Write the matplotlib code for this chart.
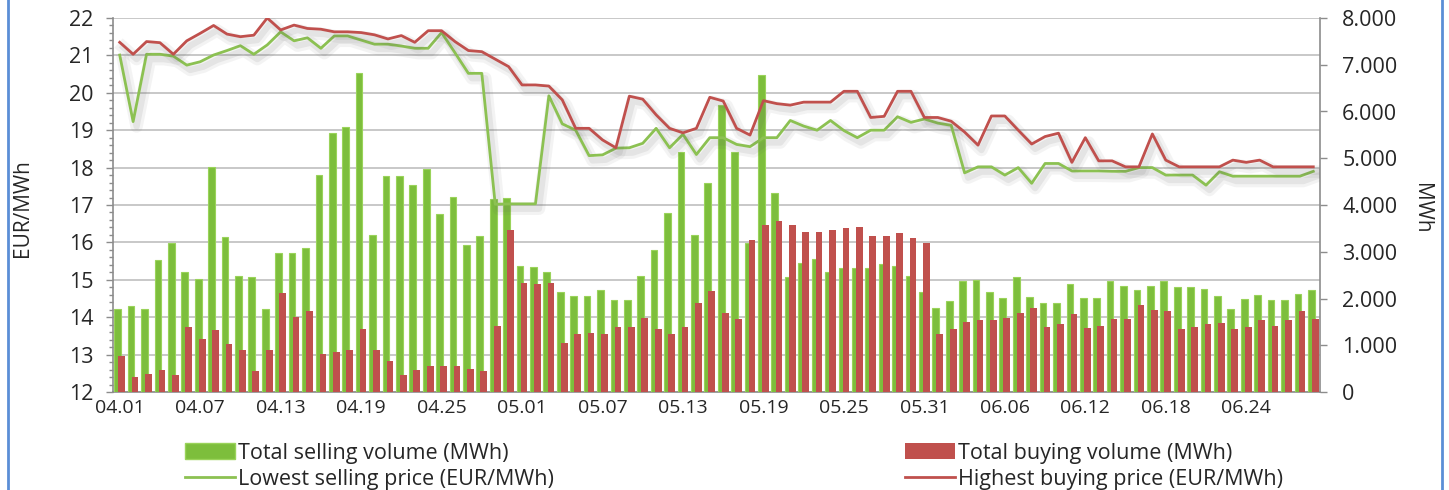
import numpy as np
import pandas as pd
import matplotlib
matplotlib.use("Agg")
import matplotlib.pyplot as plt
import matplotlib.patheffects as pe
from matplotlib.lines import Line2D
from matplotlib.patches import Patch
from matplotlib.ticker import FuncFormatter

plt.rcParams['font.family'] = ['Open Sans', 'DejaVu Sans']

#################################################################
# data
#################################################################

days = pd.date_range('2019-04-01', periods=90).strftime('%m.%d').tolist()

# MWh, secondary axis
sell_vol = [1780, 1830, 1780, 2820, 3180, 2570, 2410, 4820, 3310, 2490,
            2450, 1780, 2980, 2980, 3090, 4650, 5530, 5660, 6820, 3360,
            4620, 4620, 4420, 4780, 3800, 4180, 3140, 3330, 4120, 4150,
            2700, 2670, 2560, 2130, 2050, 2050, 2180, 1960, 1960, 2480,
            3040, 3830, 5140, 3360, 4480, 6140, 5140, 3180, 6780, 4260,
            2460, 2750, 2840, 2560, 2660, 2660, 2660, 2740, 2700, 2490,
            2140, 1790, 1950, 2380, 2400, 2130, 2020, 2460, 2040, 1900,
            1900, 2310, 2020, 2020, 2380, 2260, 2180, 2260, 2380, 2240,
            2240, 2210, 2050, 1770, 1990, 2070, 1960, 1960, 2100, 2180]

buy_vol = [770, 330, 380, 470, 360, 1380, 1130, 1320, 1020, 900,
           450, 900, 2110, 1600, 1730, 820, 850, 900, 1340, 900,
           660, 360, 470, 550, 550, 550, 490, 440, 1420, 3460,
           2330, 2300, 2330, 1040, 1230, 1260, 1230, 1380, 1400, 1590,
           1340, 1230, 1380, 1910, 2160, 1700, 1560, 3260, 3570, 3650,
           3580, 3430, 3430, 3460, 3510, 3540, 3340, 3340, 3400, 3290,
           3180, 1230, 1340, 1500, 1540, 1540, 1590, 1700, 1800, 1400,
           1460, 1670, 1370, 1420, 1560, 1560, 1860, 1750, 1730, 1340,
           1400, 1460, 1480, 1340, 1400, 1540, 1420, 1540, 1730, 1560]

# EUR/MWh, primary axis
low_sell = [21.01, 19.23, 21.03, 21.03, 20.98, 20.74, 20.83, 21.01, 21.13, 21.26,
            21.03, 21.28, 21.63, 21.39, 21.47, 21.19, 21.52, 21.52, 21.41, 21.30,
            21.30, 21.25, 21.19, 21.19, 21.61, 21.07, 20.52, 20.52, 17.02, 17.03,
            17.03, 17.03, 19.92, 19.17, 19.00, 18.32, 18.34, 18.52, 18.53, 18.65,
            19.05, 18.53, 18.89, 18.35, 18.80, 18.80, 18.62, 18.56, 18.80, 18.80,
            19.26, 19.11, 19.00, 19.26, 18.99, 18.80, 19.00, 19.00, 19.36, 19.21,
            19.30, 19.19, 19.13, 17.86, 18.02, 18.02, 17.80, 18.00, 17.58, 18.11,
            18.11, 17.91, 17.91, 17.91, 17.90, 17.90, 18.00, 18.00, 17.80, 17.80,
            17.80, 17.53, 17.89, 17.77, 17.77, 17.77, 17.77, 17.77, 17.77, 17.90]

high_buy = [21.35, 21.03, 21.37, 21.34, 21.03, 21.39, 21.59, 21.80, 21.57, 21.50,
            21.54, 22.00, 21.68, 21.81, 21.72, 21.70, 21.63, 21.63, 21.61, 21.55,
            21.44, 21.53, 21.35, 21.66, 21.66, 21.37, 21.13, 21.10, 20.90, 20.70,
            20.21, 20.21, 20.18, 19.81, 19.05, 19.05, 18.74, 18.53, 19.91, 19.83,
            19.41, 19.05, 18.93, 19.05, 19.88, 19.78, 19.05, 18.87, 19.79, 19.71,
            19.67, 19.75, 19.75, 19.75, 20.04, 20.04, 19.34, 19.37, 20.04, 20.04,
            19.34, 19.34, 19.24, 18.95, 18.60, 19.38, 19.38, 19.00, 18.63, 18.83,
            18.92, 18.14, 18.80, 18.18, 18.18, 18.02, 18.02, 18.90, 18.20, 18.02,
            18.02, 18.02, 18.02, 18.20, 18.14, 18.20, 18.02, 18.02, 18.02, 18.02]

#################################################################
# plot
#################################################################

W, H = 1449, 490
GREEN_BAR = '#7DBE3C'
GREEN_EDGE = '#9AD35A'
RED = '#C0504D'
GREEN_LINE = '#8CC152'
GREY = '#8C8C8C'
TXT = '#262626'

fig = plt.figure(figsize=(W / 100, H / 100), dpi=100)
fig.patch.set_facecolor('white')

ax = fig.add_axes([113 / W, 1 - 392 / H, (1320 - 113) / W, (392 - 18) / H])
x = np.arange(len(days))

# price axis (left) with grid
ax.set_xlim(-0.5, len(days) - 0.5)
ax.set_ylim(12, 22)
ax.set_yticks(range(12, 23))
ax.set_yticks(np.arange(12, 22.01, 0.2), minor=True)
ax.grid(axis='y', which='major', color='#C4C4C4', lw=1.3)
ax.set_axisbelow(True)
ax.set_xticks(x[::6])
ax.set_xticklabels(days[::6])
ax.tick_params(axis='x', length=0, labelsize=14, pad=5, colors=TXT)
ax.tick_params(axis='y', which='major', length=5, width=1, color=GREY,
               labelsize=15.5, pad=9, labelcolor=TXT)
ax.tick_params(axis='y', which='minor', length=3, width=1, color=GREY)
for s in ['top', 'right']:
    ax.spines[s].set_visible(False)
for s in ['left', 'bottom']:
    ax.spines[s].set_color(GREY)
    ax.spines[s].set_linewidth(1.2)

# volume axis (right) with bars
axv = ax.twinx()
axv.set_ylim(0, 8000)
axv.set_yticks(range(0, 8001, 1000))
axv.yaxis.set_major_formatter(FuncFormatter(lambda v, p: f"{v:,.0f}".replace(',', '.')))
axv.tick_params(axis='y', length=5, width=1, color=GREY, labelsize=15.5, pad=11,
                labelcolor=TXT)
for s in ['top', 'left', 'bottom']:
    axv.spines[s].set_visible(False)
axv.spines['right'].set_color(GREY)
axv.spines['right'].set_linewidth(1.2)

axv.bar(x - 0.15, sell_vol, width=0.5, color=GREEN_BAR, edgecolor=GREEN_EDGE, lw=0.8, zorder=2)
axv.bar(x + 0.15, buy_vol, width=0.5, color=RED, lw=0, zorder=3)

# price lines on top, with a soft drop shadow
axl = ax.twinx()
axl.set_ylim(12, 22)
axl.axis('off')
shadow = [pe.SimpleLineShadow(offset=(2.5, -3.5), shadow_color='#606060', alpha=0.07, linewidth=9),
          pe.SimpleLineShadow(offset=(2.5, -3.5), shadow_color='#606060', alpha=0.10, linewidth=4.5),
          pe.Normal()]
axl.plot(x, low_sell, color=GREEN_LINE, lw=2, path_effects=shadow)
axl.plot(x, high_buy, color=RED, lw=2, path_effects=shadow)

# axis titles
fig.text(23 / W, 1 - 208 / H, 'EUR/MWh', rotation=90, ha='center', va='center',
         fontsize=15, color=TXT)
fig.text(1421 / W, 1 - 208 / H, 'MWh', rotation=270, ha='center', va='center',
         fontsize=15, color=TXT)

# legend, one entry per box to place them like the original
entries = [
    (Patch(facecolor=GREEN_BAR, edgecolor=GREEN_EDGE), 'Total selling volume (MWh)', 185, 453),
    (Patch(facecolor=RED), 'Total buying volume (MWh)', 905, 453),
    (Line2D([], [], color=GREEN_LINE, lw=2), 'Lowest selling price (EUR/MWh)', 185, 479),
    (Line2D([], [], color=RED, lw=2), 'Highest buying price (EUR/MWh)', 905, 479),
]
for h, lab, px, py in entries:
    fig.legend([h], [lab], loc='center left', bbox_to_anchor=(px / W, 1 - py / H),
               frameon=False, fontsize=15.5, borderpad=0, borderaxespad=0,
               handlelength=2.3, handleheight=0.75, handletextpad=0.15,
               labelcolor=TXT)

# blue frame at the sides
fig.add_artist(Line2D([8 / W, 8 / W], [0, 1], color='#5B8ED6', lw=2, transform=fig.transFigure))
fig.add_artist(Line2D([1442 / W, 1442 / W], [0, 1], color='#5B8ED6', lw=2, transform=fig.transFigure))

fig.savefig('out.png', dpi=100, facecolor='white')
